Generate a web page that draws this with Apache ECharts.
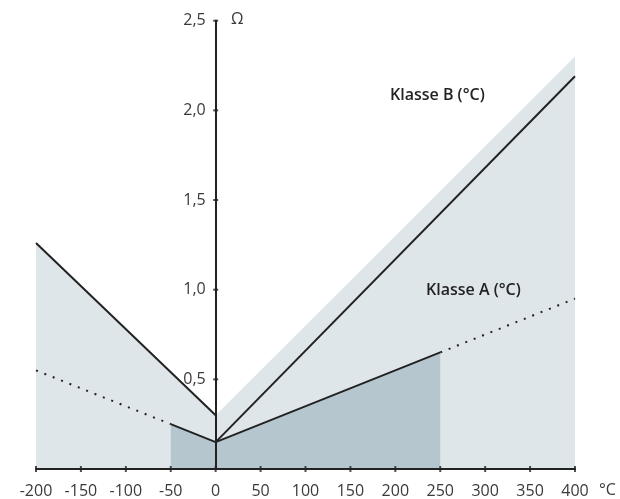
<!DOCTYPE html>
<html>
<head>
<meta charset="utf-8">
<script src="https://cdn.jsdelivr.net/npm/echarts@6/dist/echarts.min.js"></script>
<style>html,body{margin:0;padding:0;background:#fff}#c{width:620px;height:499px}</style>
</head>
<body>
<div id="c"></div>
<script>
// Data (temperature °C, deviation Ω)
const xTicks = [-200, -150, -100, -50, 0, 50, 100, 150, 200, 250, 300, 350, 400];
const yTicks = [0, 0.5, 1.0, 1.5, 2.0, 2.5];
const bandB = [[-200, 1.26], [0, 0.3], [400, 2.3]];          // light band (Klasse B °C)
const bandA = [[-50, 0.25], [0, 0.15], [250, 0.65]];          // dark band (Klasse A)
const lineBLeft = [[-200, 1.26], [0, 0.3]];
const lineBRight = [[0, 0.15], [400, 2.19]];
const lineASolid = [[-50, 0.25], [0, 0.15], [250, 0.65]];
const lineADotLeft = [[-200, 0.55], [-50, 0.25]];
const lineADotRight = [[250, 0.65], [400, 0.95]];

const FONT = '"Open Sans", "Noto Sans", sans-serif';
const TXT = '#3a3a3a';
const LINE = '#222';
const GRID_LEFT = 36;
const chart = echarts.init(document.getElementById('c'), null, {renderer: 'canvas'});

const fmtY = v => v === 0 ? '' : v.toFixed(1).replace('.', ',');

chart.setOption({
  animation: false,
  grid: {left: GRID_LEFT, right: 45, top: 20.7, bottom: 30},
  xAxis: {
    type: 'value', min: xTicks[0], max: xTicks[xTicks.length - 1], interval: 50, z: 10,
    splitLine: {show: false},
    axisLine: {onZero: false, lineStyle: {color: LINE, width: 2}},
    axisTick: {show: false},
    axisLabel: {color: TXT, fontFamily: FONT, fontSize: 16, margin: 14,
      formatter: v => String(v)}
  },
  yAxis: {
    type: 'value', min: yTicks[0], max: yTicks[yTicks.length - 1], interval: 0.5, z: 10,
    splitLine: {show: false},
    axisLine: {onZero: false, lineStyle: {color: LINE, width: 2}},
    axisTick: {show: false},
    axisLabel: {color: TXT, fontFamily: FONT, fontSize: 16, margin: 10, formatter: fmtY}
  },
  series: [
    {type: 'line', data: bandB, symbol: 'none', z: 1, lineStyle: {width: 0},
      areaStyle: {color: '#dfe6ea', opacity: 1}},
    {type: 'line', data: bandA, symbol: 'none', z: 2, lineStyle: {width: 0},
      areaStyle: {color: '#b6c6cf', opacity: 1}},
    {type: 'line', data: lineBLeft, symbol: 'none', z: 3, lineStyle: {color: LINE, width: 2}},
    {type: 'line', data: lineBRight, symbol: 'none', z: 3, lineStyle: {color: LINE, width: 2}},
    {type: 'line', data: lineASolid, symbol: 'none', z: 3, lineStyle: {color: LINE, width: 2}},
    {type: 'line', data: lineADotLeft, symbol: 'none', z: 3, lineStyle: {color: LINE, width: 2, type: [2, 7]}},
    {type: 'line', data: lineADotRight, symbol: 'none', z: 3, lineStyle: {color: LINE, width: 2, type: [2, 7]}},
    {type: 'scatter', data: xTicks.map(v => [v, 0]), symbol: 'rect', symbolSize: [2, 6], z: 11,
      itemStyle: {color: LINE}, silent: true},
    {type: 'scatter', data: yTicks.filter(v => v > 0).map(v => [0, v]), symbol: 'rect', symbolSize: [5, 2], z: 11,
      itemStyle: {color: LINE}, silent: true}
  ],
  graphic: [
    {type: 'text', z: 100, left: 390, top: 87, style: {text: 'Klasse B (°C)', font: '600 16px ' + FONT, fill: '#222'}},
    {type: 'text', z: 100, left: 426, top: 282, style: {text: 'Klasse A (°C)', font: '600 16px ' + FONT, fill: '#222'}},
    {type: 'text', z: 100, left: 231, top: 11, style: {text: 'Ω', font: '16px ' + FONT, fill: TXT}},
    {type: 'text', z: 100, left: 599, top: 482, style: {text: '°C', font: '16px ' + FONT, fill: TXT}}
  ]
});
// move the value axis onto x = 0 (labels follow the axis line)
const zeroPx = chart.convertToPixel({xAxisIndex: 0}, 0);
chart.setOption({yAxis: {offset: -(zeroPx - GRID_LEFT)}});
</script>
</body>
</html>
